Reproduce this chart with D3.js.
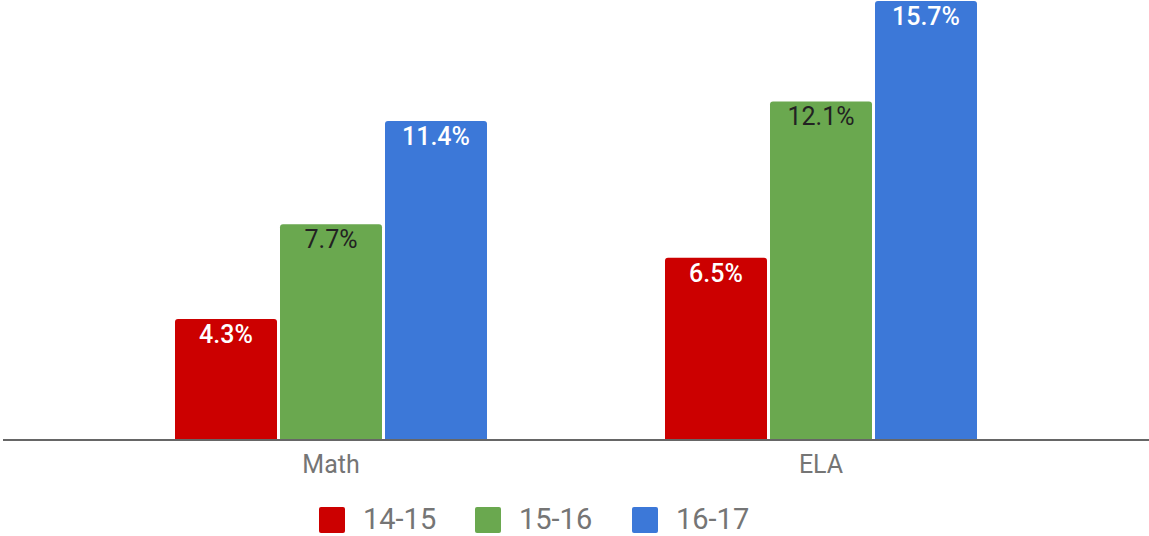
<!DOCTYPE html>
<html><head><meta charset="utf-8">
<script src="https://cdn.jsdelivr.net/npm/d3@7"></script>
<style>body{margin:0;background:#fff}svg{display:block;font-family:Roboto,"Noto Sans",sans-serif}</style>
</head><body>
<svg id="c" width="1149" height="536"></svg>
<script>
const categories = ["Math", "ELA"];
const seriesNames = ["14-15", "15-16", "16-17"];
const values14_15 = [4.3, 6.5];
const values15_16 = [7.7, 12.1];
const values16_17 = [11.4, 15.7];
const seriesColors = ["#cc0000", "#6aa84f", "#3c78d8"];
const labelColors = ["#ffffff", "#222222", "#ffffff"];
const labelWeights = [500, 400, 500];

const seriesValues = [values14_15, values15_16, values16_17];
const data = categories.map((c, i) => ({cat: c, vals: seriesNames.map((s, j) => ({s, j, v: seriesValues[j][i]}))}));

const svg = d3.select("#c");
const baseY = 439;
const x0 = d3.scaleBand().domain(categories).range([86, 1066]).paddingInner(178/490).paddingOuter(89/490);
const x1 = d3.scaleBand().domain(seriesNames).range([0, x0.bandwidth()]).paddingInner(3/105).paddingOuter(0);
const y = d3.scaleLinear().domain([0, 15.7]).range([baseY, 1]);

function barPath(x, yt, w, h, r) {
  return `M${x},${yt+h}V${yt+r}Q${x},${yt} ${x+r},${yt}H${x+w-r}Q${x+w},${yt} ${x+w},${yt+r}V${yt+h}Z`;
}

const g = svg.selectAll("g.grp").data(data).join("g").attr("class","grp")
  .attr("transform", d => `translate(${x0(d.cat)},0)`);

g.selectAll("path").data(d => d.vals).join("path")
  .attr("d", d => barPath(x1(d.s), y(d.v), x1.bandwidth(), baseY - y(d.v), 3))
  .attr("fill", d => seriesColors[d.j]);

g.selectAll("text").data(d => d.vals).join("text")
  .attr("x", d => x1(d.s) + x1.bandwidth()/2)
  .attr("y", d => y(d.v) + 24)
  .attr("text-anchor", "middle")
  .attr("font-size", 25)
  .attr("font-weight", d => labelWeights[d.j])
  .attr("fill", d => labelColors[d.j])
  .text(d => d.v.toFixed(1) + "%");

// axis
const axis = svg.append("g").attr("transform", `translate(0,${baseY})`)
  .call(d3.axisBottom(x0).tickSize(0).tickPadding(16));
axis.select(".domain").remove();
axis.selectAll("text").attr("font-size", 25).attr("fill", "#757575").attr("font-family", "Roboto, sans-serif").attr("dy", "0.71em");
svg.append("line").attr("x1", 3).attr("x2", 1149).attr("y1", baseY + 1).attr("y2", baseY + 1)
  .attr("stroke", "#666").attr("stroke-width", 2);

// legend
const legendX = [319, 475, 632];
const lg = svg.selectAll("g.leg").data(seriesNames).join("g").attr("class","leg")
  .attr("transform", (d, i) => `translate(${legendX[i]},507)`);
lg.append("rect").attr("width", 26).attr("height", 26).attr("rx", 2).attr("fill", (d, i) => seriesColors[i]);
lg.append("text").attr("x", 44).attr("y", 22).attr("font-size", 29).attr("fill", "#757575").text(d => d);
</script>
</body></html>
